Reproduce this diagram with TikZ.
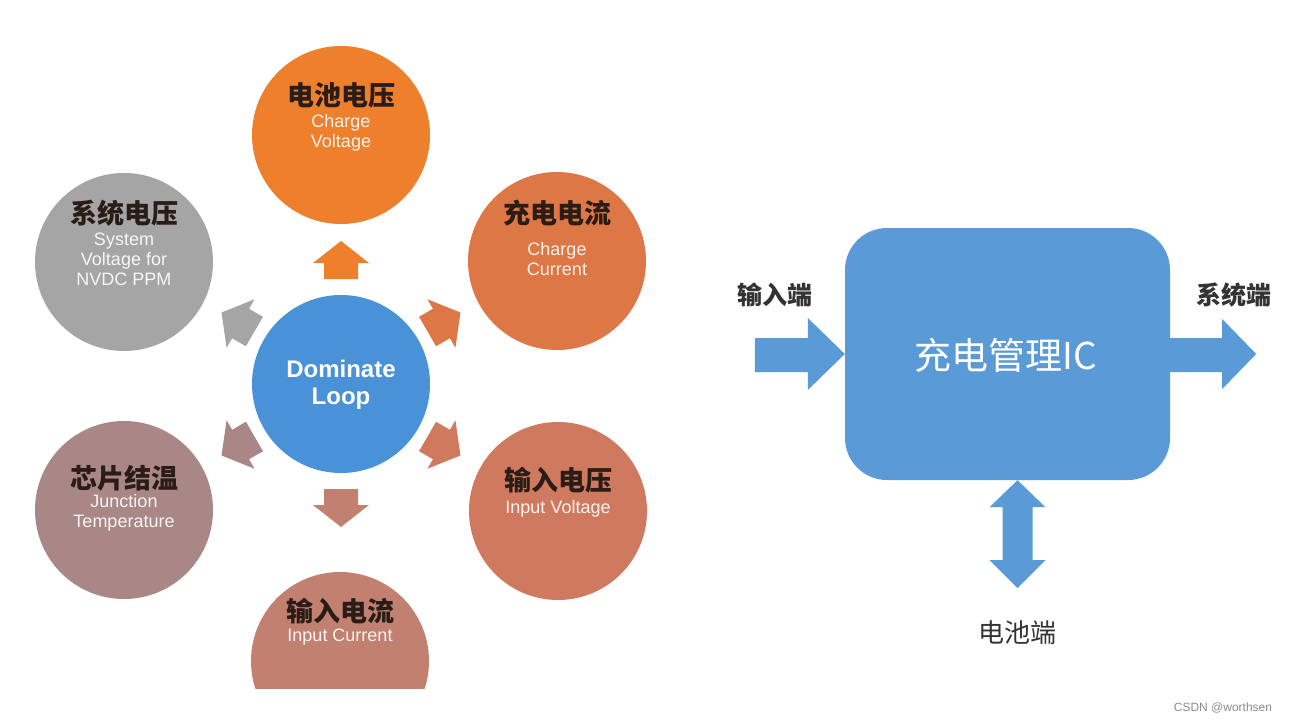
\documentclass[tikz,border=0pt]{standalone}
\usepackage{fontspec}
\setmainfont{Liberation Sans}
\newfontfamily\cjk{Noto Sans CJK SC}
\newfontfamily\en{Liberation Sans}
\usetikzlibrary{calc}
\definecolor{cTop}{HTML}{EE7F2D}
\definecolor{cUR}{HTML}{DE7746}
\definecolor{cLR}{HTML}{CF7A5F}
\definecolor{cBot}{HTML}{C28070}
\definecolor{cLL}{HTML}{AA8787}
\definecolor{cUL}{HTML}{A5A5A5}
\definecolor{cMid}{HTML}{4A92D8}
\definecolor{cBlock}{HTML}{5A9BD7}
\definecolor{cnText}{HTML}{2A1C16}
\definecolor{lblText}{HTML}{333333}
\tikzset{
  x=1pt, y=-1pt,
  bubble/.style={circle, minimum size=178pt, inner sep=0pt},
  cntext/.style={font=\cjk\bfseries\fontsize{27}{30}\selectfont, text=cnText, inner sep=0pt},
  entext/.style={font=\en\fontsize{18}{20}\selectfont, text=white, text opacity=0.9, align=center, inner sep=0pt},
  hexarrow/.pic={\fill[pic actions] (-19,-17) -- (-3,-17) -- (-3,-28) -- (19,0) -- (-3,28) -- (-3,17) -- (-19,17) -- cycle;},
  portlbl/.style={font=\cjk\bfseries\fontsize{25}{28}\selectfont, text=lblText, inner sep=0pt},
}
\begin{document}
\begin{tikzpicture}
\useasboundingbox[fill=white] (0,0) rectangle (1291,723);
% centre
\node[bubble, fill=cMid] (mid) at (341,384) {};
\node[font=\en\bfseries\fontsize{24}{27}\selectfont, text=white, align=center, inner sep=0pt] (midt) at (341,385) {Dominate\\Loop};
% top
\node[bubble, fill=cTop] (top) at (341,135) {};
\node[cntext] (topc) at ($(top)+(0,-40)$) {电池电压};
\node[entext] (tope) at ($(top)+(0,-2)$) {Charge\\Voltage};
% upper right
\node[bubble, fill=cUR] (ur) at (557,261) {};
\node[cntext] (urc) at ($(ur)+(0,-48)$) {充电电流};
\node[entext] (ure) at ($(ur)+(0,-2)$) {Charge\\Current};
% lower right
\node[bubble, fill=cLR] (lr) at (558,511) {};
\node[cntext] (lrc) at ($(lr)+(0,-31)$) {输入电压};
\node[entext] (lre) at ($(lr)+(0,-2)$) {Input Voltage};
% bottom
\begin{scope}
\clip (0,0) rectangle (1291,688);
\node[bubble, fill=cBot] (bot) at (340,661) {};
\end{scope}
\node[cntext] (botc) at ($(bot)+(0,-50)$) {输入电流};
\node[entext] (bote) at ($(bot)+(0,-24)$) {Input Current};
% lower left
\node[bubble, fill=cLL] (ll) at (124,510) {};
\node[cntext] (llc) at ($(ll)+(0,-32)$) {芯片结温};
\node[entext] (lle) at ($(ll)+(0,3)$) {Junction\\Temperature};
% upper left
\node[bubble, fill=cUL] (ul) at (124,262) {};
\node[cntext] (ulc) at ($(ul)+(0,-49)$) {系统电压};
\node[entext] (ule) at ($(ul)+(0,-3)$) {System\\Voltage for\\NVDC PPM};
% small arrows
\pic[rotate=90, fill=cTop] at (341,260) {hexarrow};
\pic[rotate=30, fill=cUR] at (444,322) {hexarrow};
\pic[rotate=-30, fill=cLR] at (444,446) {hexarrow};
\pic[rotate=-90, fill=cBot] at (341,508) {hexarrow};
\pic[rotate=210, fill=cLL] at (238,446) {hexarrow};
\pic[rotate=150, fill=cUL] at (238,322) {hexarrow};
% right block
\node[rounded corners=42pt, minimum width=325pt, minimum height=252pt, fill=cBlock, inner sep=0pt] (ic) at (1007.5,354) {};
\node[font=\cjk\fontsize{37}{40}\selectfont, text=white, inner sep=0pt] (ict) at (1006,355) {充电管理IC};
% input arrow
\fill[cBlock] (ic.west) -- ($(ic.west)+(-37,-36)$) -- ($(ic.west)+(-37,-16)$) -- ($(ic.west)+(-90,-16)$) -- ($(ic.west)+(-90,18)$) -- ($(ic.west)+(-37,18)$) -- ($(ic.west)+(-37,36)$) -- cycle;
\node[portlbl] (inl) at (775,295) {输入端};
% output arrow
\coordinate (outtip) at ($(ic.east)+(86,0)$);
\fill[cBlock] (outtip) -- ($(outtip)+(-34,-35)$) -- ($(outtip)+(-34,-16)$) -- ($(ic.east)+(0,-16)$) -- ($(ic.east)+(0,18)$) -- ($(outtip)+(-34,18)$) -- ($(outtip)+(-34,35)$) -- cycle;
\node[portlbl] (outl) at (1234,295) {系统端};
% battery double arrow
\coordinate (bt) at ($(ic.south)+(10,0)$);
\coordinate (bb) at ($(bt)+(0,108)$);
\fill[cBlock] (bt) -- ($(bt)+(28,27)$) -- ($(bt)+(15,27)$) -- ($(bb)+(15,-28)$) -- ($(bb)+(28,-28)$) -- (bb) -- ($(bb)+(-28,-28)$) -- ($(bb)+(-15,-28)$) -- ($(bt)+(-15,27)$) -- ($(bt)+(-28,27)$) -- cycle;
\node[font=\cjk\fontsize{26}{28}\selectfont, text=lblText, inner sep=0pt] (batl) at (1017,633) {电池端};
% watermark
\node[font=\en\fontsize{12}{14}\selectfont, text=black!45, inner sep=0pt] (wm) at (1223,708) {CSDN @worthsen};
\end{tikzpicture}
\end{document}
